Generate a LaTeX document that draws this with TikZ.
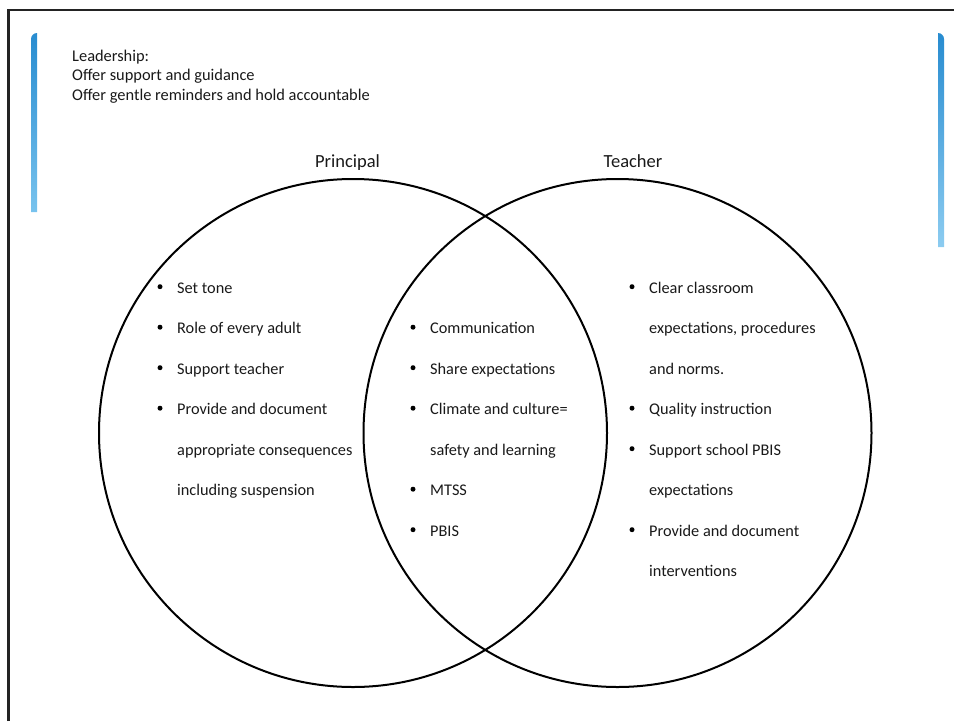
\documentclass[tikz,border=0pt]{standalone}
\usepackage{fontspec}
\setmainfont{Carlito}
\definecolor{barTop}{RGB}{40,140,208}
\definecolor{barBot}{RGB}{120,195,238}
\definecolor{frameC}{RGB}{35,35,35}
\definecolor{txtC}{RGB}{25,25,25}
\tikzset{
  txt/.style={anchor=base west, inner sep=0pt, text=txtC, font=\fontsize{16.3}{19}\selectfont},
  hdr/.style={txt, font=\fontsize{16.4}{19}\selectfont},
  ttl/.style={anchor=base, inner sep=0pt, text=txtC, font=\fontsize{18.5}{22}\selectfont},
  venn/.style={draw=black, line width=2pt},
  dotb/.style={fill=black},
}
\begin{document}
\begin{tikzpicture}[x=1pt,y=1pt]
\useasboundingbox (0,0) rectangle (954,-721);
% frame
\draw[frameC, line width=2.6pt] (8.2,-721) -- (8.2,-10) -- (954,-10);
% blue bars
\shade[top color=barTop, bottom color=barBot] (31,-212) -- (31,-39) arc[start angle=180,end angle=90,radius=6] -- (37,-33) -- (37,-212) -- cycle;
\shade[top color=barTop, bottom color=barBot!85!white] (938,-247) -- (938,-33) arc[start angle=90,end angle=0,radius=6] -- (944,-247) -- cycle;
% header
\node[hdr] (h1) at (72,-61) {Leadership:};
\node[hdr] (h2) at (72,-80.5) {Offer support and guidance};
\node[hdr] (h3) at (72,-100) {Offer gentle reminders and hold accountable};
% titles
\node[ttl] (tp) at (347.5,-167) {Principal};
\node[ttl] (tt) at (633,-167) {Teacher};
% circles
\draw[venn] (353,-433) circle[radius=254pt];
\draw[venn] (617.5,-433) circle[radius=254pt];
% left list
\foreach \y in {293,333.5,374,414.5} {\fill[dotb] (160,-\y+6.3) circle[radius=2.5pt];}
\node[txt] (l1) at (177,-293) {Set tone};
\node[txt] (l2) at (177,-333.5) {Role of every adult};
\node[txt] (l3) at (177,-374) {Support teacher};
\node[txt] (l4) at (177,-414.5) {Provide and document};
\node[txt] (l5) at (177,-455) {appropriate consequences};
\node[txt] (l6) at (177,-495.5) {including suspension};
% middle list
\foreach \y in {333.5,374,414.5,495.5,536} {\fill[dotb] (413,-\y+6.3) circle[radius=2.5pt];}
\node[txt] (m1) at (430,-333.5) {Communication};
\node[txt] (m2) at (430,-374) {Share expectations};
\node[txt] (m3) at (430,-414.5) {Climate and culture=};
\node[txt] (m4) at (430,-455) {safety and learning};
\node[txt] (m5) at (430,-495.5) {MTSS};
\node[txt] (m6) at (430,-536) {PBIS};
% right list
\foreach \y in {293,414.5,455,536} {\fill[dotb] (632,-\y+6.3) circle[radius=2.5pt];}
\node[txt] (r1) at (649,-293) {Clear classroom};
\node[txt] (r2) at (649,-333.5) {expectations, procedures};
\node[txt] (r3) at (649,-374) {and norms.};
\node[txt] (r4) at (649,-414.5) {Quality instruction};
\node[txt] (r5) at (649,-455) {Support school PBIS};
\node[txt] (r6) at (649,-495.5) {expectations};
\node[txt] (r7) at (649,-536) {Provide and document};
\node[txt] (r8) at (649,-576.5) {interventions};
\end{tikzpicture}
\end{document}
